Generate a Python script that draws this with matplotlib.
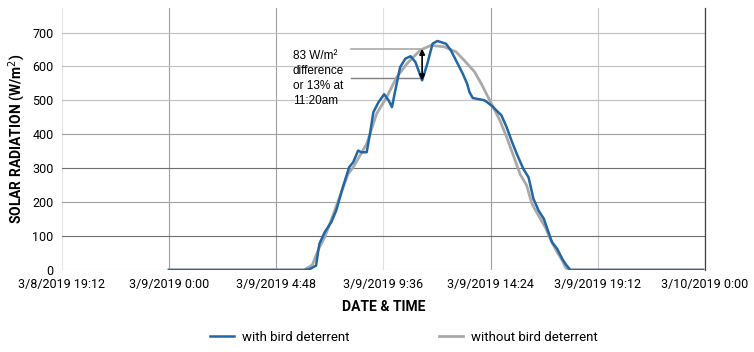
import datetime as dt
import numpy as np
import matplotlib
matplotlib.use("Agg")
import matplotlib.pyplot as plt
import matplotlib.dates as mdates
from matplotlib.ticker import FuncFormatter

# readings on 3/9/2019 (hour:minute), solar radiation in W/m2
with_times = ["0:00", "6:03", "6:17", "6:35", "6:41", "6:44", "6:58", "7:16", "7:29",
              "7:47", "8:04", "8:15", "8:28", "8:37", "8:51", "9:00", "9:09", "9:23",
              "9:38", "9:50", "9:59", "10:08", "10:21", "10:35", "10:49", "11:02",
              "11:20", "11:34", "11:48", "12:01", "12:24", "12:37", "12:51", "13:09",
              "13:21", "13:27", "13:36", "13:50", "14:08", "14:26", "14:53", "15:07",
              "15:20", "15:34", "15:52", "16:06", "16:19", "16:33", "16:47", "16:58",
              "17:09", "17:23", "17:37", "17:45", "17:58", "23:55"]
with_vals = [0, 0, 2, 13, 57, 77, 111, 141, 175,
             244, 303, 318, 352, 347, 347, 402, 465, 495,
             518, 500, 480, 530, 598, 623, 630, 613,
             559, 608, 667, 675, 667, 648, 618, 579,
             549, 525, 507, 504, 500, 485, 456, 421,
             382, 343, 298, 273, 210, 175, 151, 116,
             82, 62, 32, 18, 0, 0]

without_times = ["0:00", "6:03", "6:25", "6:44", "6:58", "7:20", "8:01", "8:15", "8:51",
                 "9:18", "9:45", "10:12", "10:39", "11:15", "11:43", "12:19", "12:51",
                 "13:13", "13:41", "13:59", "14:17", "14:31", "14:49", "15:07", "15:25",
                 "15:43", "16:01", "16:15", "16:33", "16:51", "17:04", "17:18", "17:37",
                 "17:45", "17:53", "23:55"]
without_vals = [0, 0, 15, 67, 96, 160, 283, 303, 372,
                461, 510, 569, 608, 648, 662, 658, 643,
                618, 584, 549, 510, 480, 441, 392, 338,
                283, 249, 195, 160, 126, 92, 62, 27,
                8, 0, 0]

tick_start = dt.datetime(2019, 3, 8, 19, 12)
n_ticks = 7
note = "83 W/m²\ndifference\nor 13% at\n11:20am"
note_hi, note_lo = 650, 567
note_time = "11:20"


def to_dt(s):
    h, m = s.split(":")
    return dt.datetime(2019, 3, 9, int(h), int(m))


t_with = [to_dt(s) for s in with_times]
t_without = [to_dt(s) for s in without_times]

fig = plt.figure(figsize=(7.54, 3.52), dpi=100)
ax = fig.add_axes([0.082, 0.233, 0.853, 0.744])

ax.plot(t_without, without_vals, color="#a9a9a9", lw=2.0, label="without bird deterrent",
        zorder=3, solid_joinstyle="round")
ax.plot(t_with, with_vals, color="#2166a5", lw=1.8, label="with bird deterrent",
        zorder=4, solid_joinstyle="round")

# annotation: two guide lines + double arrow
tn = to_dt(note_time)
t_left = to_dt("8:10")
ax.plot([t_left, tn], [note_hi, note_hi], color="#a9a9a9", lw=1.2, zorder=2)
ax.plot([t_left, tn], [note_lo, note_lo], color="#7f7f7f", lw=1.0, zorder=2)
ax.annotate("", xy=(tn, note_lo - 8), xytext=(tn, note_hi + 2),
            arrowprops=dict(arrowstyle="<|-|>", color="black", lw=1.2,
                            mutation_scale=8, shrinkA=0, shrinkB=0), zorder=5)
ax.text(to_dt("5:32"), 648, note, fontsize=8.5, family="Liberation Sans",
        va="top", ha="left", linespacing=1.32)

# axes
base = mdates.date2num(tick_start)
ticks = base + 0.2 * np.arange(n_ticks)
ax.set_xlim(ticks[0], ticks[-1])
ax.set_xticks(ticks)


def fmt(x, pos):
    d = mdates.num2date(x) + dt.timedelta(seconds=30)
    return f"{d.month}/{d.day}/{d.year} {d.hour}:{d.minute:02d}"


ax.xaxis.set_major_formatter(FuncFormatter(fmt))
ax.set_ylim(0, 772)
ax.set_yticks(range(0, 701, 100))
ax.tick_params(length=0, labelsize=9, pad=6)
for lab in ax.get_xticklabels() + ax.get_yticklabels():
    lab.set_family("Roboto")

ax.grid(True, color="#a0a0a0", lw=0.8)
ax.set_axisbelow(True)
xg = ax.get_xgridlines()
xg[0].set_color("#e6e6e6")
xg[3].set_color("#e0e0e0")
xg[5].set_color("#c8c8c8")
yg = ax.get_ygridlines()
yg[0].set_color("#d8d8d8")
for i in (1, 3):
    yg[i].set_color("#6e6e6e")
for i in (5, 6, 7):
    yg[i].set_color("#c0c0c0")
for s in ["top", "left", "bottom"]:
    ax.spines[s].set_visible(False)
ax.spines["right"].set_color("#404040")
ax.spines["right"].set_linewidth(0.9)

ax.set_xlabel("DATE & TIME", fontsize=10, fontweight="bold", family="Roboto", labelpad=6)
ax.set_ylabel("SOLAR RADIATION (W/m$^2$)", fontsize=10, fontweight="bold", family="Roboto",
              labelpad=3)

h, l = ax.get_legend_handles_labels()
fig.legend(h[::-1], l[::-1], loc="lower center", bbox_to_anchor=(0.536, -0.01), ncol=2,
           frameon=False, columnspacing=6.8, handlelength=1.8, handletextpad=0.6,
           prop={"family": "Roboto", "size": 9.5})

fig.savefig("out.png", dpi=100)
